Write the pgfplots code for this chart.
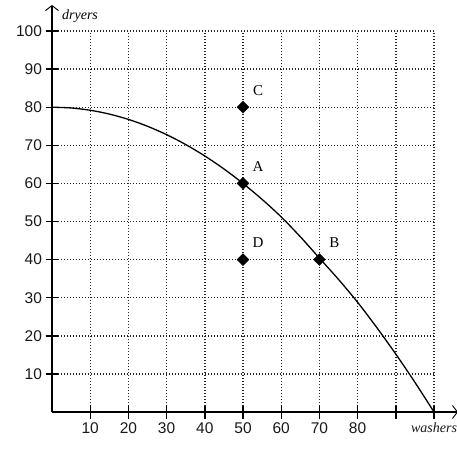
\documentclass[border=0pt]{standalone}
\usepackage{pgfplots}
\pgfplotsset{compat=1.18}
\usepackage{fontspec}
\setmainfont{Liberation Serif}
\newfontfamily\tickfont{Liberation Sans}
\usetikzlibrary{arrows.meta}
\begin{document}
\begin{tikzpicture}
\begin{axis}[
  anchor=origin, at={(0pt,0pt)},
  x=3.82pt, y=3.81pt,
  xmin=0, xmax=100, ymin=0, ymax=100,
  axis x line=bottom, axis y line=left,
  x axis line style={line width=1.5pt, shorten >=-24pt, -{Straight Barb[length=5pt,width=13pt,line width=0.9pt]}},
  y axis line style={line width=1.5pt, shorten >=-26pt, -{Straight Barb[length=5pt,width=13pt,line width=0.9pt]}},
  xtick={10,20,...,100},
  xticklabels={10,20,30,40,50,60,70,80,{},{\rmfamily\itshape\fontsize{14}{16}\selectfont washers}},
  ytick={10,20,...,100},
  tick align=center,
  major tick length=13pt,
  tick style={black, line width=1.4pt},
  grid=major,
  major grid style={black!85, line width=1.4pt, dash pattern=on 1.3pt off 1.7pt},
  /pgf/number format/assume math mode=true,
  tick label style={font=\tickfont\fontsize{15.5}{18}\selectfont, text=black!90},
  xticklabel style={yshift=-1pt},
  clip=false,
  point meta=explicit symbolic,
  nodes near coords,
  every node near coord/.append style={anchor=center, xshift=15pt, yshift=17pt, font=\fontsize{15}{17}\selectfont},
]
\addplot[black, line width=1.3pt, smooth, no marks, nodes near coords=] coordinates {
  (0,80) (5,79.8) (10,79.2) (15,78.2) (20,76.8) (25,75) (30,72.8) (35,70.2)
  (40,67.2) (45,63.8) (50,60) (55,55.8) (60,51.2) (65,46) (70,40.4) (75,34.8)
  (80,28.8) (85,22.2) (90,15.2) (95,7.8) (100,0)
};
\addplot[only marks, mark=square*, mark size=4.2pt, every mark/.append style={rotate=45}, black] coordinates {
  (50,60) [A]
  (70,40) [B]
  (50,80) [C]
  (50,40) [D]
};
\node[anchor=west, font=\itshape\fontsize{14}{16}\selectfont, inner sep=0pt] at (axis cs:2.6,103.8) {dryers};
\end{axis}
\pgfresetboundingbox
\path (-52pt,-39pt) rectangle (405pt,412pt);
\end{tikzpicture}
\end{document}
